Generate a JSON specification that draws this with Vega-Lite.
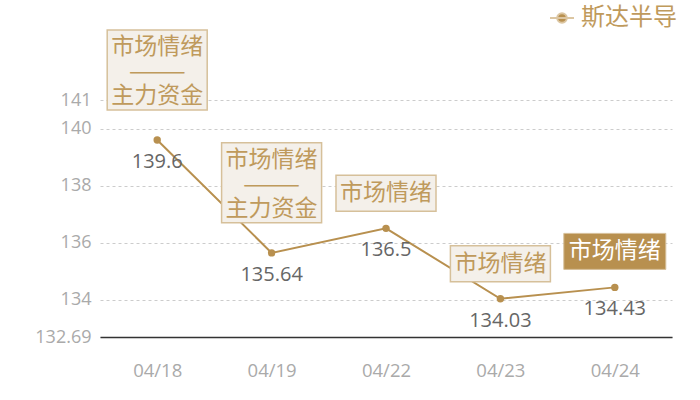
{
  "$schema": "https://vega.github.io/schema/vega-lite/v6.json",
  "width": 572,
  "height": 237,
  "autosize": "none",
  "padding": {"left": 100, "top": 100, "right": 28, "bottom": 63},
  "background": "white",
  "data": {
    "values": [
      {"date": "04/18", "value": 139.6, "series": "斯达半导", "tag": "市场情绪\n———\n主力资金"},
      {"date": "04/19", "value": 135.64, "series": "斯达半导", "tag": "市场情绪\n———\n主力资金"},
      {"date": "04/22", "value": 136.5, "series": "斯达半导", "tag": "市场情绪"},
      {"date": "04/23", "value": 134.03, "series": "斯达半导", "tag": "市场情绪"},
      {"date": "04/24", "value": 134.43, "series": "斯达半导", "tag": "市场情绪"}
    ]
  },
  "encoding": {
    "x": {
      "field": "date",
      "type": "ordinal",
      "scale": {"type": "point", "padding": 0.5},
      "axis": {
        "title": null,
        "labelAngle": 0,
        "ticks": false,
        "grid": false,
        "domainColor": "#333333",
        "domainWidth": 1.5,
        "labelColor": "#aaaaaa",
        "labelFont": "Open Sans",
        "labelFontSize": 18.5,
        "labelPadding": 24
      }
    },
    "y": {
      "field": "value",
      "type": "quantitative",
      "scale": {"domain": [132.69, 141], "nice": false, "zero": false},
      "axis": {
        "title": null,
        "values": [132.69, 134, 136, 138, 140, 141],
        "format": ".2~f",
        "domain": false,
        "ticks": false,
        "grid": true,
        "gridColor": "#cccccc",
        "gridDash": [3, 3],
        "labelColor": "#aaaaaa",
        "labelFont": "Open Sans",
        "labelFontSize": 18,
        "labelPadding": 9
      }
    }
  },
  "layer": [
    {
      "mark": {"type": "line", "color": "#b8904f", "strokeWidth": 2}
    },
    {
      "mark": {"type": "circle", "size": 55, "opacity": 1},
      "encoding": {
        "color": {
          "field": "series",
          "type": "nominal",
          "scale": {"range": ["#b8904f"]},
          "legend": {
            "title": null,
            "orient": "none",
            "legendX": 449,
            "legendY": -95,
            "padding": 0,
            "symbolType": "M-1,0H1M-0.4,0A0.4,0.4,0,1,0,0.4,0A0.4,0.4,0,1,0,-0.4,0Z",
            "symbolSize": 576,
            "symbolStrokeWidth": 2,
            "symbolStrokeColor": "#dcc6a2",
            "symbolFillColor": "#b8904f",
            "labelFont": "Noto Sans CJK SC",
            "labelFontSize": 24,
            "labelColor": "#bf9a5c",
            "labelOffset": 6,
            "encode": {
              "symbols": {
                "update": {
                  "stroke": {"value": "#dcc6a2"},
                  "strokeOpacity": {"value": 1},
                  "strokeWidth": {"value": 2},
                  "fill": {"value": "#b8904f"},
                  "fillOpacity": {"value": 1}
                }
              }
            }
          }
        }
      }
    },
    {
      "mark": {"type": "text", "dy": 22, "fontSize": 20, "font": "Open Sans", "color": "#666666", "baseline": "middle"},
      "encoding": {"text": {"field": "value", "type": "nominal"}}
    },
    {
      "transform": [{"filter": "datum.tag != '市场情绪'"}],
      "mark": {
        "type": "rect",
        "fill": "#f4f0ea",
        "stroke": "#d6c09a",
        "strokeWidth": 1.5,
        "xOffset": -50,
        "x2Offset": 50,
        "yOffset": -110,
        "y2Offset": -30
      },
      "encoding": {"x2": {"field": "date"}, "y2": {"field": "value"}}
    },
    {
      "transform": [{"filter": "datum.tag != '市场情绪'"}],
      "mark": {
        "type": "text",
        "dy": -93,
        "baseline": "middle",
        "lineBreak": "\n",
        "lineHeight": 24.7,
        "font": "Noto Sans CJK SC",
        "fontSize": 23,
        "color": "#bf9a5c"
      },
      "encoding": {"text": {"field": "tag", "type": "nominal"}}
    },
    {
      "transform": [{"filter": "datum.tag == '市场情绪' && datum.date != '04/24'"}],
      "mark": {
        "type": "rect",
        "fill": "#f4f0ea",
        "stroke": "#d6c09a",
        "strokeWidth": 1.5,
        "xOffset": -50,
        "x2Offset": 50,
        "yOffset": -53,
        "y2Offset": -17
      },
      "encoding": {"x2": {"field": "date"}, "y2": {"field": "value"}}
    },
    {
      "transform": [{"filter": "datum.tag == '市场情绪' && datum.date != '04/24'"}],
      "mark": {
        "type": "text",
        "dy": -35,
        "baseline": "middle",
        "font": "Noto Sans CJK SC",
        "fontSize": 23,
        "color": "#bf9a5c"
      },
      "encoding": {"text": {"field": "tag", "type": "nominal"}}
    },
    {
      "transform": [{"filter": "datum.date == '04/24'"}],
      "mark": {
        "type": "rect",
        "fill": "#b8904f",
        "stroke": "#d6c09a",
        "strokeWidth": 1,
        "xOffset": -51,
        "x2Offset": 51,
        "yOffset": -54,
        "y2Offset": -18
      },
      "encoding": {"x2": {"field": "date"}, "y2": {"field": "value"}}
    },
    {
      "transform": [{"filter": "datum.date == '04/24'"}],
      "mark": {
        "type": "text",
        "dy": -36,
        "baseline": "middle",
        "font": "Noto Sans CJK SC",
        "fontSize": 23,
        "color": "#ffffff"
      },
      "encoding": {"text": {"field": "tag", "type": "nominal"}}
    }
  ],
  "config": {"view": {"stroke": null}}
}
